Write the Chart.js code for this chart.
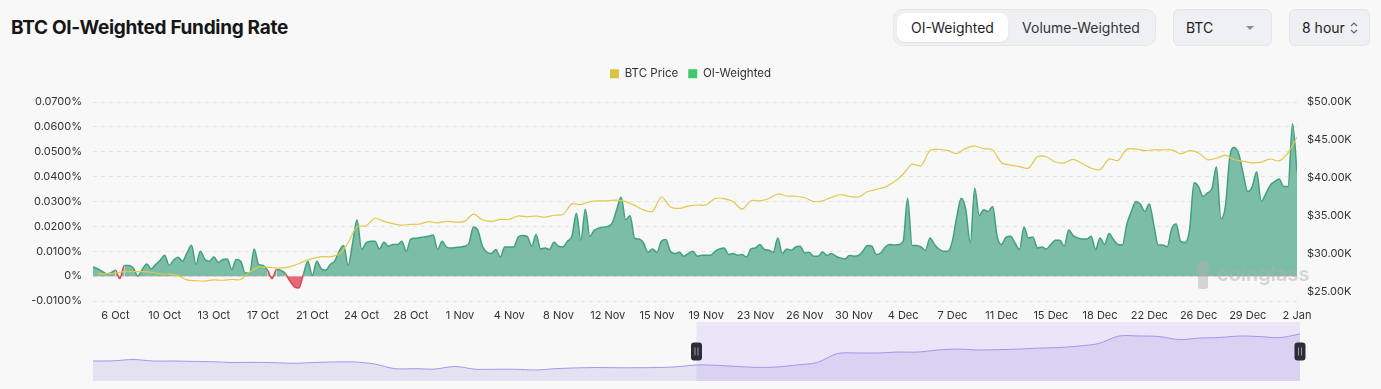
<!DOCTYPE html>
<html>
<head>
<meta charset="utf-8">
<title>BTC OI-Weighted Funding Rate</title>
<script src="https://cdn.jsdelivr.net/npm/chart.js@4.4.1/dist/chart.umd.min.js"></script>
<style>
  html, body { margin: 0; padding: 0; }
  body {
    width: 1381px; height: 389px; overflow: hidden; position: relative;
    background: #f8f8f8; color: #222;
    font-family: Inter, "Noto Sans", Arial, sans-serif;
  }
  .title { position: absolute; left: 11px; top: 16px; font-size: 19px; font-weight: 700; letter-spacing: -0.3px; color: #161616; }
  .seg { position: absolute; left: 893px; top: 9px; width: 263px; height: 37px; box-sizing: border-box;
         background: #eef0f3; border: 1px solid #e4e6ea; border-radius: 10px; }
  .seg div { position: absolute; top: 3px; height: 29px; line-height: 29px; font-size: 14px; text-align: center; color: #333; }
  .seg .on { left: 3px; width: 111px; background: #fff; border-radius: 8px; box-shadow: 0 1px 2px rgba(0,0,0,0.06); color: #1f1f1f; }
  .seg .off { left: 116px; width: 142px; }
  .sel { position: absolute; top: 9px; height: 37px; box-sizing: border-box; background: #eef0f3;
         border: 1px solid #e2e5ea; border-radius: 6px; font-size: 14px; line-height: 35px; padding-left: 12px; color: #222; }
  .caret { position: absolute; right: 17px; top: 16px; width: 0; height: 0;
           border-left: 4px solid transparent; border-right: 4px solid transparent; border-top: 4px solid #8a8d93; }
  .updown { position: absolute; right: 11px; top: 11px; }
  canvas { position: absolute; }
</style>
</head>
<body>
<div class="title">BTC OI-Weighted Funding Rate</div>
<div class="seg"><div class="on">OI-Weighted</div><div class="off">Volume-Weighted</div></div>
<div class="sel" style="left:1173px;width:99px">BTC<span class="caret"></span></div>
<div class="sel" style="left:1289px;width:81px">8 hour
  <svg class="updown" width="8" height="14" viewBox="0 0 8 14"><path d="M1 5 L4 2 L7 5 M1 9 L4 12 L7 9" stroke="#666" stroke-width="1.2" fill="none"/></svg>
</div>
<canvas id="main" width="1381" height="268" style="left:0;top:58px"></canvas>
<canvas id="zoom" width="1381" height="71" style="left:0;top:318px"></canvas>
<script>
// 8-hour funding periods, first one is 4 Oct 16:00
var periodStart = Date.UTC(2023, 9, 4, 16);

// OI-weighted funding rate in %, one value per 8h period
var fundingRate = [
  0.0037, 0.0030, 0.0020, 0.0010, 0.0013, 0.0024, -0.0010, 0.0043, 0.0043, 0.0033,
  0.0000, 0.0027, 0.0049, 0.0029, 0.0047, 0.0064, 0.0084, 0.0043, 0.0064, 0.0076,
  0.0060, 0.0093, 0.0124, 0.0047, 0.0100, 0.0067, 0.0060, 0.0077, 0.0056, 0.0067,
  0.0069, 0.0027, 0.0067, 0.0060, 0.0013, 0.0013, 0.0109, 0.0047, 0.0043, 0.0024,
  -0.0010, 0.0027, 0.0023, 0.0010, -0.0020, -0.0043, -0.0048, 0.0007, 0.0060, 0.0003,
  0.0060, 0.0029, 0.0024, 0.0047, 0.0060, 0.0100, 0.0123, 0.0043, 0.0133, 0.0227,
  0.0107, 0.0133, 0.0140, 0.0140, 0.0109, 0.0136, 0.0120, 0.0127, 0.0127, 0.0140,
  0.0100, 0.0149, 0.0152, 0.0155, 0.0157, 0.0160, 0.0165, 0.0107, 0.0140, 0.0117,
  0.0113, 0.0115, 0.0117, 0.0120, 0.0133, 0.0197, 0.0184, 0.0120, 0.0096, 0.0091,
  0.0107, 0.0077, 0.0117, 0.0117, 0.0117, 0.0157, 0.0163, 0.0160, 0.0120, 0.0167,
  0.0109, 0.0113, 0.0107, 0.0136, 0.0120, 0.0117, 0.0140, 0.0160, 0.0253, 0.0144,
  0.0269, 0.0160, 0.0184, 0.0193, 0.0197, 0.0200, 0.0213, 0.0267, 0.0317, 0.0227,
  0.0243, 0.0153, 0.0149, 0.0133, 0.0096, 0.0109, 0.0096, 0.0140, 0.0147, 0.0100,
  0.0091, 0.0096, 0.0080, 0.0091, 0.0100, 0.0080, 0.0084, 0.0084, 0.0084, 0.0100,
  0.0109, 0.0113, 0.0087, 0.0091, 0.0084, 0.0087, 0.0077, 0.0109, 0.0113, 0.0127,
  0.0107, 0.0104, 0.0096, 0.0153, 0.0091, 0.0109, 0.0104, 0.0117, 0.0120, 0.0093,
  0.0096, 0.0080, 0.0080, 0.0097, 0.0083, 0.0091, 0.0080, 0.0073, 0.0069, 0.0083,
  0.0080, 0.0083, 0.0100, 0.0123, 0.0120, 0.0087, 0.0093, 0.0117, 0.0127, 0.0125,
  0.0127, 0.0140, 0.0313, 0.0123, 0.0123, 0.0117, 0.0104, 0.0153, 0.0127, 0.0109,
  0.0100, 0.0100, 0.0140, 0.0240, 0.0313, 0.0267, 0.0133, 0.0353, 0.0243, 0.0267,
  0.0260, 0.0280, 0.0160, 0.0127, 0.0157, 0.0160, 0.0133, 0.0107, 0.0197, 0.0153,
  0.0157, 0.0113, 0.0117, 0.0109, 0.0127, 0.0144, 0.0144, 0.0120, 0.0185, 0.0163,
  0.0153, 0.0149, 0.0149, 0.0160, 0.0107, 0.0153, 0.0127, 0.0171, 0.0147, 0.0127,
  0.0125, 0.0210, 0.0260, 0.0300, 0.0290, 0.0260, 0.0290, 0.0207, 0.0125, 0.0125,
  0.0118, 0.0190, 0.0210, 0.0140, 0.0135, 0.0187, 0.0375, 0.0360, 0.0320, 0.0335,
  0.0352, 0.0440, 0.0230, 0.0280, 0.0480, 0.0517, 0.0490, 0.0410, 0.0340, 0.0360,
  0.0420, 0.0300, 0.0330, 0.0365, 0.0380, 0.0390, 0.0360, 0.0360, 0.0613, 0.0420
];

// BTC price in $K, sampled every second period starting at period 1
var priceFirst = 1;
var priceStep = 2;
var btcPrice = [
  27.4, 27.4, 27.5, 27.68, 27.68, 27.68, 27.6, 27.4, 27.35, 27.15,
  26.6, 26.5, 26.45, 26.6, 26.55, 26.65, 26.65, 27.6, 28.3, 28.25,
  28.15, 28.2, 28.5, 29.0, 29.4, 29.65, 29.65, 30.0, 31.5, 33.6,
  33.7, 34.7, 34.3, 34.0,
  33.8, 33.9, 33.95, 34.25, 34.1, 34.3, 34.2, 34.3, 35.26, 34.5,
  34.3, 34.56, 34.56, 35.0, 34.9, 35.0, 34.85, 35.1, 35.2, 36.6,
  36.5, 36.9, 37.0, 37.0, 37.1, 36.9, 36.4, 35.8, 35.6, 37.5,
  36.2, 36.0, 36.3,
  36.45, 36.45, 37.3, 37.3, 36.9, 35.9, 37.0, 37.0, 37.3, 37.9,
  37.63, 37.6, 37.4, 36.9, 37.0, 37.45, 37.8, 37.6, 37.5, 38.2,
  38.5, 38.8, 39.5, 40.5, 41.8, 41.6, 43.6, 43.75, 43.6, 43.2,
  43.9, 44.2, 43.85, 43.7,
  42.0, 41.7, 41.5, 41.3, 42.8, 42.8, 42.1, 42.0, 42.46, 41.9,
  41.3, 41.1, 42.5, 42.3, 43.8, 43.8, 43.6, 43.7, 43.7, 43.7,
  43.2, 43.6, 43.3, 42.4, 42.6, 43.0, 42.4, 42.2, 42.0, 42.1,
  42.5, 42.25, 43.3, 45.4
];

// x axis labels, one every 11 periods from period 5
var xTickFirst = 5;
var xTickStep = 11;
var xTickLabels = [
  "6 Oct", "10 Oct", "13 Oct", "17 Oct", "21 Oct", "24 Oct", "28 Oct", "1 Nov", "4 Nov",
  "8 Nov", "12 Nov", "15 Nov", "19 Nov", "23 Nov", "26 Nov", "30 Nov", "4 Dec", "7 Dec",
  "11 Dec", "15 Dec", "18 Dec", "22 Dec", "26 Dec", "29 Dec", "2 Jan"
];
var priceTicks = [25, 30, 35, 40, 45, 50];

// data zoom overview: BTC price ($K) over the full history, evenly spaced
var sliderPrice = [
  30.0, 30.1, 30.8, 30.0, 30.0, 29.8, 29.6, 29.2, 29.3, 29.1,
  28.8, 29.2, 29.5, 29.5, 28.4, 25.9, 25.9, 25.7, 27.1, 25.6,
  25.6, 25.6, 25.2, 25.9, 26.3, 26.5, 26.4, 26.4, 26.5, 26.9,
  27.9, 27.7, 27.1, 26.6, 26.8, 27.9, 29.2, 34.0, 34.3, 34.3,
  34.8, 34.8, 35.9, 36.4, 35.9, 36.1, 36.4, 36.9, 37.2, 38.0,
  39.4, 43.4, 43.4, 43.1, 41.5, 42.3, 42.6, 43.4, 43.1, 42.5,
  44.5
];
var sliderWindow = [30, 60];

var green = "#43a07e";
var red = "#dc4654";
var tickFont = { size: 11, family: "Inter" };

// keep the legend taller so the plot starts below it
var legendHeight = {
    id: "legendHeight",
    beforeInit: function (chart) {
        var fit = chart.legend.fit;
        chart.legend.fit = function () {
            fit.call(this);
            this.height = 44;
        };
    },
};

var watermark = {
    id: "watermark",
    afterDatasetsDraw: function (chart) {
        var ctx = chart.ctx;
        var a = chart.chartArea;
        ctx.save();
        ctx.fillStyle = "rgba(175,175,175,0.5)";
        ctx.beginPath();
        ctx.arc(a.right - 94, a.bottom - 33, 7, 0, Math.PI * 2);
        ctx.fill();
        ctx.beginPath();
        ctx.roundRect(a.right - 99, a.bottom - 28, 10, 16, 3);
        ctx.fill();
        ctx.font = "600 20px Inter";
        ctx.textBaseline = "middle";
        ctx.fillText("coinglass", a.right - 80, a.bottom - 26);
        ctx.restore();
    },
};

var mainChart = new Chart(document.getElementById("main"), {
    type: "line",
    data: {
        datasets: [
            {
                label: "BTC Price",
                yAxisID: "yPrice",
                data: btcPrice.map(function (v, k) { return { x: priceFirst + priceStep * k, y: v }; }),
                borderColor: "#e2c84c",
                backgroundColor: "#d7c444",
                borderWidth: 1.2,
                pointRadius: 0,
                tension: 0.3,
                fill: false,
            },
            {
                label: "OI-Weighted",
                yAxisID: "yRate",
                data: fundingRate.map(function (v, i) { return { x: i, y: v }; }),
                borderColor: green,
                backgroundColor: "#3ec96d",
                borderWidth: 1.5,
                pointRadius: 0,
                cubicInterpolationMode: "monotone",
                fill: { target: "origin", above: "#7bbda7", below: "#e36b75" },
                segment: {
                    borderColor: function (c) {
                        return (c.p0.parsed.y < 0 || c.p1.parsed.y < 0) ? red : green;
                    },
                },
            },
        ],
    },
    options: {
        responsive: false,
        animation: false,
        events: [],
        layout: { padding: 0 },
        plugins: {
            tooltip: { enabled: false },
            legend: {
                labels: {
                    boxWidth: 9,
                    boxHeight: 9,
                    padding: 10,
                    color: "#333",
                    font: { size: 11.5, family: "Inter" },
                    generateLabels: function (chart) {
                        return Chart.defaults.plugins.legend.labels.generateLabels(chart).map(function (l) {
                            l.strokeStyle = l.fillStyle;
                            l.lineWidth = 0;
                            return l;
                        });
                    },
                },
            },
        },
        scales: {
            x: {
                type: "linear",
                min: 0,
                max: fundingRate.length - 1,
                grid: { display: false, drawTicks: false },
                border: { display: false },
                afterBuildTicks: function (axis) {
                    axis.ticks = xTickLabels.map(function (s, k) { return { value: xTickFirst + xTickStep * k }; });
                },
                afterFit: function (axis) { axis.height = 25; },
                ticks: {
                    autoSkip: false,
                    maxRotation: 0,
                    padding: 8,
                    color: "#333",
                    font: tickFont,
                    callback: function (v, idx) { return xTickLabels[idx]; },
                },
            },
            yRate: {
                position: "left",
                min: -0.01,
                max: 0.07,
                grid: { color: "#e4e4e4", drawTicks: false },
                border: { display: false, dash: [4, 4] },
                afterFit: function (axis) { axis.width = 93; },
                ticks: {
                    stepSize: 0.01,
                    padding: 11,
                    color: "#333",
                    font: tickFont,
                    callback: function (v) { return Math.abs(v) < 1e-9 ? "0%" : v.toFixed(4) + "%"; },
                },
            },
            yPrice: {
                position: "right",
                min: 23.82,
                max: 50,
                grid: { display: false, drawTicks: false },
                border: { display: false },
                afterBuildTicks: function (axis) {
                    axis.ticks = priceTicks.map(function (v) { return { value: v }; });
                },
                afterFit: function (axis) { axis.width = 84; },
                ticks: {
                    padding: 10,
                    color: "#333",
                    font: tickFont,
                    callback: function (v) { return "$" + v.toFixed(2) + "K"; },
                },
            },
        },
    },
    plugins: [legendHeight, watermark],
});

// shaded selection window and drag handles of the zoom bar
var sliderDecor = {
    id: "sliderDecor",
    beforeDatasetsDraw: function (chart) {
        var ctx = chart.ctx;
        var a = chart.chartArea;
        var x0 = chart.scales.x.getPixelForValue(sliderWindow[0]);
        var x1 = chart.scales.x.getPixelForValue(sliderWindow[1]);
        ctx.save();
        ctx.fillStyle = "rgba(190,170,250,0.25)";
        ctx.fillRect(x0, a.top, x1 - x0, a.bottom - a.top);
        ctx.restore();
    },
    afterDatasetsDraw: function (chart) {
        var ctx = chart.ctx;
        var a = chart.chartArea;
        var mid = (a.top + a.bottom) / 2;
        ctx.save();
        sliderWindow.forEach(function (v) {
            var x = chart.scales.x.getPixelForValue(v);
            ctx.fillStyle = "#2d2c37";
            ctx.beginPath();
            ctx.roundRect(x - 5.5, mid - 9, 11, 18, 3);
            ctx.fill();
            ctx.fillStyle = "#9a98a8";
            ctx.fillRect(x - 2, mid - 4, 1, 8);
            ctx.fillRect(x + 1, mid - 4, 1, 8);
        });
        ctx.restore();
    },
};

var zoomChart = new Chart(document.getElementById("zoom"), {
    type: "line",
    data: {
        datasets: [
            {
                data: sliderPrice.map(function (v, k) { return { x: k, y: v }; }),
                borderColor: "#a395ea",
                borderWidth: 1,
                backgroundColor: "rgba(160,145,225,0.22)",
                fill: "start",
                pointRadius: 0,
                tension: 0.3,
            },
        ],
    },
    options: {
        responsive: false,
        animation: false,
        events: [],
        layout: { padding: { left: 93, right: 81, top: 4, bottom: 8 } },
        plugins: { legend: { display: false }, tooltip: { enabled: false } },
        scales: {
            x: { type: "linear", display: false, min: 0, max: sliderPrice.length - 1 },
            y: { display: false, min: 19.3, max: 50.9 },
        },
    },
    plugins: [sliderDecor],
});
</script>
</body>
</html>
